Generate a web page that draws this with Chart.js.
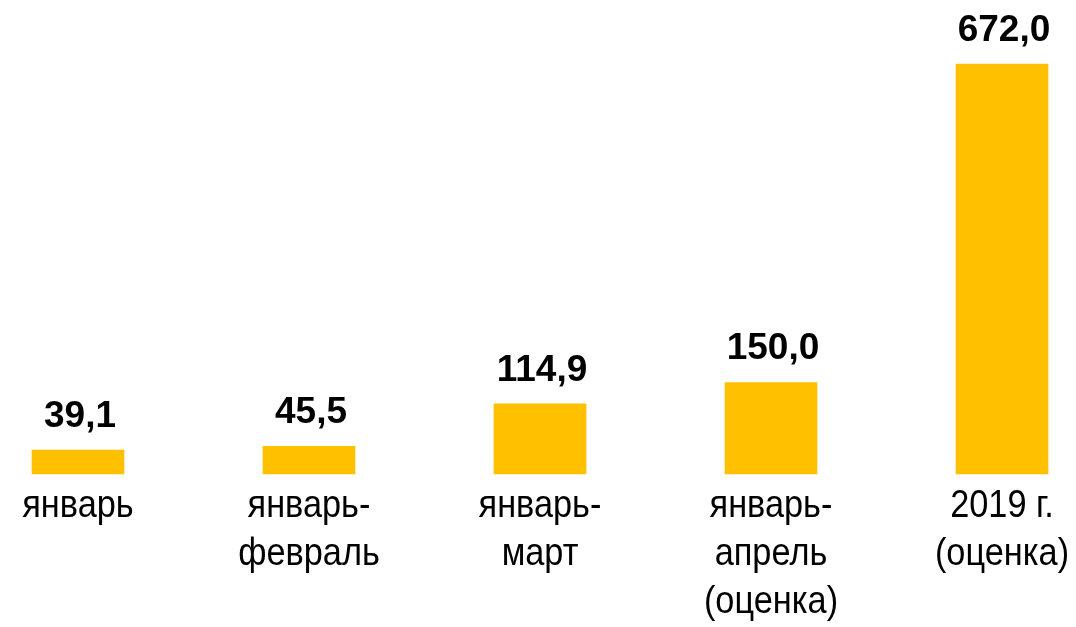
<!DOCTYPE html>
<html>
<head>
<meta charset="utf-8">
<script src="https://cdn.jsdelivr.net/npm/chart.js@4"></script>
<style>
  html, body { margin: 0; padding: 0; background: #fff; }
  #wrap { width: 1076px; height: 627px; }
</style>
</head>
<body>
<div id="wrap"><canvas id="canvas"></canvas></div>
<script>
// categories (multi-line labels) and values
var categories = [
    ["январь"],
    ["январь-", "февраль"],
    ["январь-", "март"],
    ["январь-", "апрель", "(оценка)"],
    ["2019 г.", "(оценка)"]
];
var values = [39.1, 45.5, 114.9, 150.0, 672.0];

// value labels above bars + narrow category labels under the axis
var barLabels = {
    id: 'barLabels',
    afterDatasetsDraw: function (chart) {
        var ctx = chart.ctx;
        var meta = chart.getDatasetMeta(0);
        var xs = chart.scales.x;
        ctx.save();
        ctx.font = 'bold 37px "Liberation Sans", Arial, sans-serif';
        ctx.fillStyle = '#000';
        ctx.textAlign = 'center';
        ctx.textBaseline = 'alphabetic';
        meta.data.forEach(function (bar, i) {
            var txt = values[i].toFixed(1).replace('.', ',');
            ctx.fillText(txt, bar.x + 2, bar.y - 23);
        });
        ctx.restore();

        // category labels, condensed like Arial Narrow
        var base = chart.chartArea.bottom;
        ctx.save();
        ctx.font = '39px "Liberation Sans", Arial, sans-serif';
        ctx.fillStyle = '#000';
        ctx.textAlign = 'center';
        ctx.textBaseline = 'alphabetic';
        categories.forEach(function (lines, i) {
            var x = xs.getPixelForValue(i);
            lines.forEach(function (line, j) {
                ctx.save();
                ctx.translate(x, base + 43 + j * 48);
                ctx.scale(0.88, 1);
                ctx.fillText(line, 0, 0);
                ctx.restore();
            });
        });
        ctx.restore();
    }
};

var cfg = {
    type: 'bar',
    data: {
        labels: categories,
        datasets: [{
            data: values,
            backgroundColor: '#FFC000',
            borderWidth: 0,
            barThickness: 92,
            clip: false
        }]
    },
    options: {
        responsive: true,
        maintainAspectRatio: false,
        animation: false,
        layout: {
            padding: { left: 78, right: 74, top: 64, bottom: 153 }
        },
        plugins: {
            legend: { display: false },
            tooltip: { enabled: false }
        },
        scales: {
            x: {
                offset: false,
                grid: { display: false, drawTicks: false },
                border: { display: false },
                ticks: { display: false }
            },
            y: {
                display: false,
                min: 0,
                max: Math.max.apply(null, values)
            }
        }
    },
    plugins: [barLabels]
};

window.onload = function () {
    window.myBar = new Chart(document.getElementById('canvas'), cfg);
};
</script>
</body>
</html>
